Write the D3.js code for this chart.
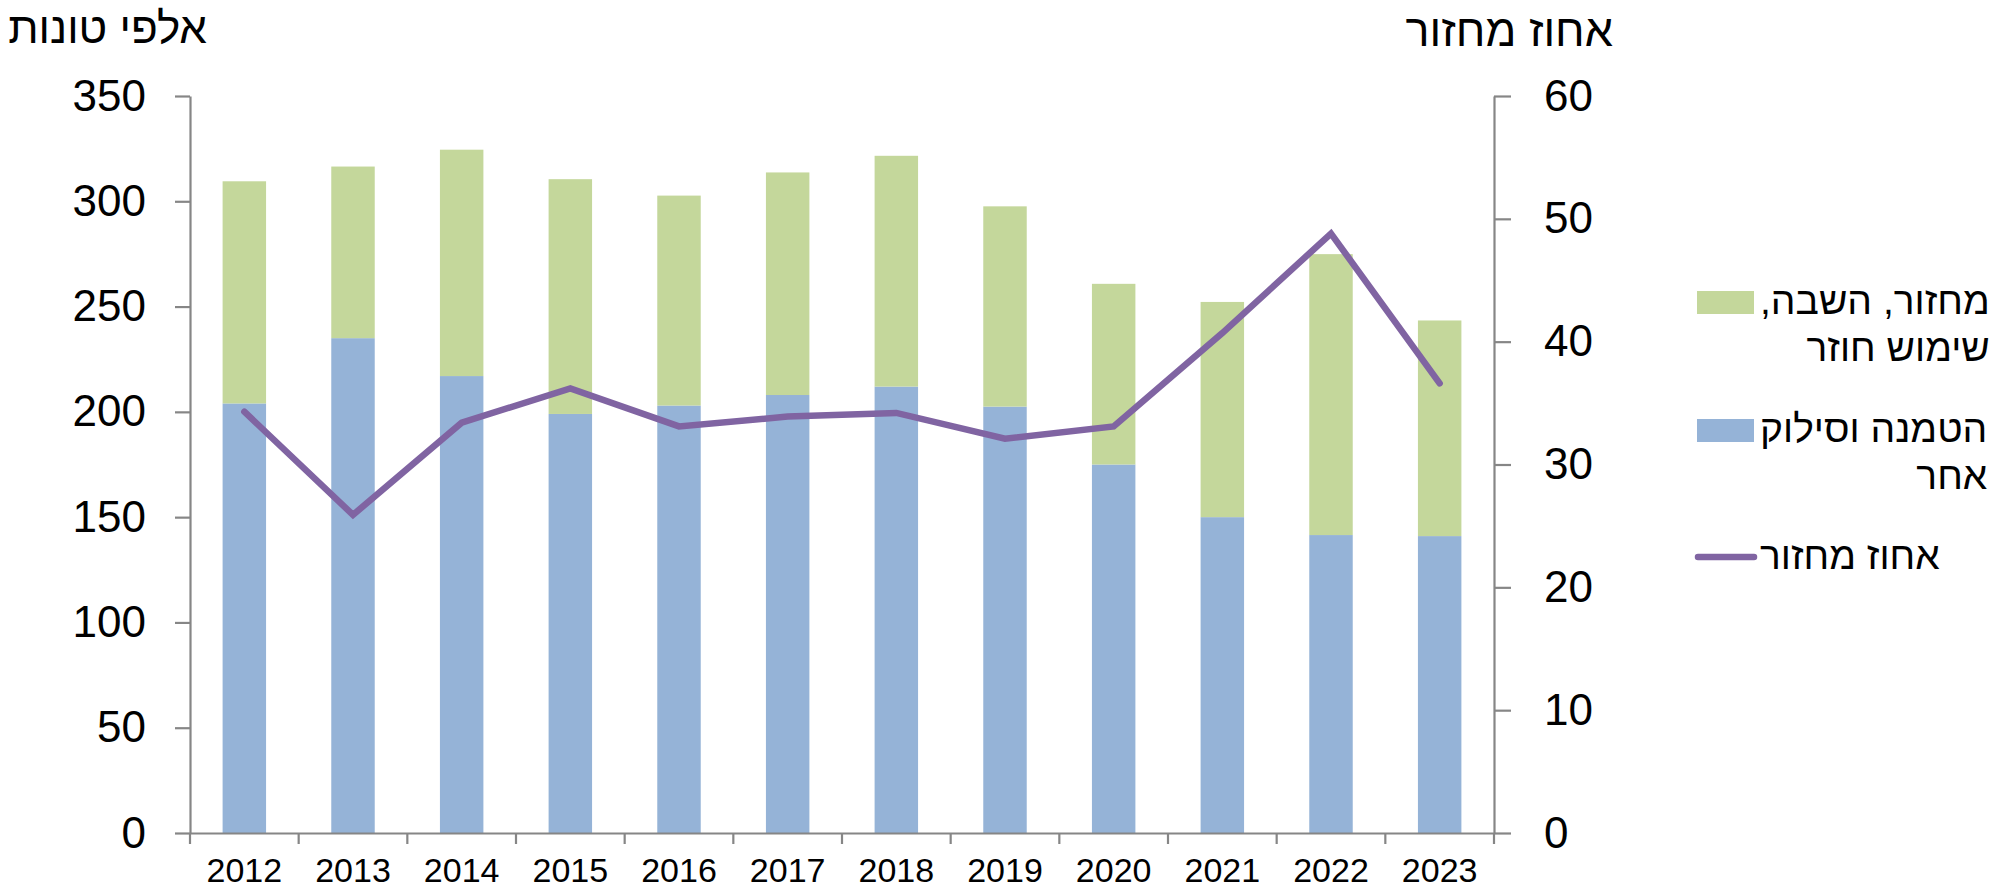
<!DOCTYPE html>
<html lang="he">
<head>
<meta charset="utf-8">
<script src="https://cdn.jsdelivr.net/npm/d3@7"></script>
<style>
  html, body { margin: 0; padding: 0; background: #ffffff; }
  svg { display: block; font-family: "Liberation Sans", Arial, "DejaVu Sans", sans-serif; }
</style>
</head>
<body>
<svg id="chart" width="2011" height="891"></svg>
<script>
// Annual waste treatment, thousands of tonnes, with recycling rate (%)
const years = ["2012","2013","2014","2015","2016","2017","2018","2019","2020","2021","2022","2023"];
const landfill = [204, 235, 217, 199, 203, 208, 212, 202.5, 175, 150, 141.5, 141];
const recycled = [105.5, 81.5, 107.5, 111.5, 99.7, 105.7, 109.6, 95.1, 85.8, 102.2, 133.4, 102.4];
const recycleRate = [34.3, 25.9, 33.4, 36.2, 33.1, 33.9, 34.2, 32.1, 33.1, 40.7, 48.8, 36.6];

const leftTicks = [0, 50, 100, 150, 200, 250, 300, 350];
const rightTicks = [0, 10, 20, 30, 40, 50, 60];

const leftTitle = "אלפי טונות";
const rightTitle = "אחוז מחזור";
const legendItems = [
  { lines: ["מחזור, השבה,", "שימוש חוזר"], kind: "rect", color: "#C4D79B" },
  { lines: ["הטמנה וסילוק", "אחר"], kind: "rect", color: "#95B3D7" },
  { lines: ["אחוז מחזור"], kind: "line", color: "#8064A2" }
];

const COLORS = { landfill: "#95B3D7", recycled: "#C4D79B", line: "#8064A2", axis: "#868686", text: "#000000" };

const svg = d3.select("#chart");
const plot = { left: 190, right: 1494, top: 96, bottom: 833 };

const x = d3.scaleBand().domain(years).range([plot.left, plot.right]).paddingInner(0.6).paddingOuter(0.3);
const yL = d3.scaleLinear().domain([0, 350]).range([plot.bottom, plot.top]);
const yR = d3.scaleLinear().domain([0, 60]).range([plot.bottom, plot.top]);

const rows = years.map((yr, i) => ({ year: yr, landfill: landfill[i], recycled: recycled[i], rate: recycleRate[i] }));
const stack = d3.stack().keys(["landfill", "recycled"])(rows);

// stacked bars
svg.append("g").selectAll("g").data(stack).join("g")
  .attr("fill", d => COLORS[d.key])
  .selectAll("rect").data(d => d).join("rect")
  .attr("x", d => x(d.data.year))
  .attr("width", x.bandwidth())
  .attr("y", d => yL(d[1]))
  .attr("height", d => yL(d[0]) - yL(d[1]));

// axes
const leftAxis = svg.append("g").attr("transform", `translate(${plot.left},0)`)
  .call(d3.axisLeft(yL).tickValues(leftTicks).tickSize(15).tickPadding(29).tickSizeOuter(0));
const rightAxis = svg.append("g").attr("transform", `translate(${plot.right},0)`)
  .call(d3.axisRight(yR).tickValues(rightTicks).tickSize(17).tickPadding(33).tickSizeOuter(0));
[leftAxis, rightAxis].forEach(g => {
  g.select(".domain").attr("stroke", COLORS.axis).attr("stroke-width", 2.2);
  g.selectAll(".tick line").attr("stroke", COLORS.axis).attr("stroke-width", 2.2);
  g.selectAll(".tick text").attr("fill", COLORS.text).attr("font-size", 44)
    .attr("font-family", "'Liberation Sans', Arial, sans-serif");
});

// category axis with ticks at band boundaries
const bottomAxis = svg.append("g").attr("transform", `translate(0,${plot.bottom})`)
  .call(d3.axisBottom(x).tickSize(0).tickPadding(25).tickSizeOuter(0));
bottomAxis.select(".domain").attr("stroke", COLORS.axis).attr("stroke-width", 2.2);
bottomAxis.selectAll(".tick text").attr("fill", COLORS.text).attr("font-size", 34)
  .attr("font-family", "'Liberation Sans', Arial, sans-serif");
const gapHalf = (x.step() - x.bandwidth()) / 2;
const boundaries = years.map(d => x(d) - gapHalf).concat([x(years[years.length - 1]) + x.bandwidth() + gapHalf]);
bottomAxis.selectAll("line.boundary").data(boundaries).join("line")
  .attr("class", "boundary")
  .attr("x1", d => d).attr("x2", d => d)
  .attr("y1", 0).attr("y2", 11)
  .attr("stroke", COLORS.axis).attr("stroke-width", 2.2);

// recycling rate line
const line = d3.line().x(d => x(d.year) + x.bandwidth() / 2).y(d => yR(d.rate));
svg.append("path").datum(rows)
  .attr("d", line)
  .attr("fill", "none")
  .attr("stroke", COLORS.line)
  .attr("stroke-width", 6.5)
  .attr("stroke-linejoin", "miter")
  .attr("stroke-linecap", "round");

// axis titles
svg.append("text").text(leftTitle)
  .attr("x", 207).attr("y", 43)
  .attr("direction", "rtl").attr("text-anchor", "start")
  .attr("font-size", 44).attr("fill", COLORS.text);
svg.append("text").text(rightTitle)
  .attr("x", 1613).attr("y", 46)
  .attr("direction", "rtl").attr("text-anchor", "start")
  .attr("font-size", 45).attr("fill", COLORS.text);

// legend
const legend = svg.append("g");
const legendTextLeft = 1760;
const legendTops = [291, 419, 546];
const lineGap = 47;
legendItems.forEach((item, i) => {
  const top = legendTops[i];
  if (item.kind === "rect") {
    legend.append("rect").attr("x", 1697).attr("y", top).attr("width", 57).attr("height", 23).attr("fill", item.color);
  } else {
    legend.append("line").attr("x1", 1698).attr("x2", 1754).attr("y1", top + 11).attr("y2", top + 11)
      .attr("stroke", item.color).attr("stroke-width", 6.5).attr("stroke-linecap", "round");
  }
  const texts = item.lines.map((s, j) => legend.append("text").text(s)
    .attr("y", top + 23 + j * lineGap)
    .attr("direction", "rtl").attr("text-anchor", "start")
    .attr("font-size", 39).attr("fill", COLORS.text));
  const w = d3.max(texts, t => t.node().getComputedTextLength());
  texts.forEach(t => t.attr("x", legendTextLeft + w));
});
</script>
</body>
</html>
